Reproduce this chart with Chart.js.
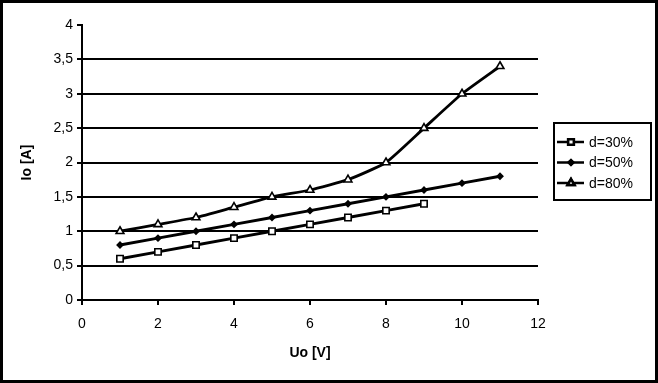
<!DOCTYPE html>
<html lang="en">
<head>
    <meta charset="UTF-8" />
    <title>Io vs Uo</title>
    <script src="https://cdn.jsdelivr.net/npm/chart.js"></script>
    <style>
        html, body { margin: 0; padding: 0; background: #fff; }
        #wrap { width: 658px; height: 383px; }
    </style>
</head>
<body>
    <div id="wrap"><canvas id="chart" width="658" height="383"></canvas></div>

    <script>
        // values
        const labels = ['d=30%', 'd=50%', 'd=80%'];
        const u30 = [1, 2, 3, 4, 5, 6, 7, 8, 9];
        const i30 = [0.6, 0.7, 0.8, 0.9, 1.0, 1.1, 1.2, 1.3, 1.4];
        const u50 = [1, 2, 3, 4, 5, 6, 7, 8, 9, 10, 11];
        const i50 = [0.8, 0.9, 1.0, 1.1, 1.2, 1.3, 1.4, 1.5, 1.6, 1.7, 1.8];
        const u80 = [1, 2, 3, 4, 5, 6, 7, 8, 9, 10, 11];
        const i80 = [1.0, 1.1, 1.2, 1.35, 1.5, 1.6, 1.75, 2.0, 2.5, 3.0, 3.4];

        const pts = (xs, ys) => xs.map((x, i) => ({ x, y: ys[i] }));
        const FONT = 'Liberation Sans, Arial, sans-serif';

        // white page + outer frame
        const frame = {
            id: 'frame',
            beforeDraw(chart) {
                const c = chart.ctx;
                c.save();
                c.fillStyle = '#fff';
                c.fillRect(0, 0, chart.width, chart.height);
                c.restore();
            },
            afterDraw(chart) {
                const c = chart.ctx;
                c.save();
                c.strokeStyle = '#000';
                c.lineWidth = 3;
                c.strokeRect(1.5, 1.5, chart.width - 3, chart.height - 3);
                c.restore();
            }
        };

        // excel-like boxed legend on the right
        const boxLegend = {
            id: 'boxLegend',
            afterDraw(chart) {
                const c = chart.ctx;
                const x0 = 554, y0 = 123, w = 97, h = 77;
                c.save();
                c.strokeStyle = '#000';
                c.lineWidth = 2;
                c.strokeRect(x0, y0, w, h);
                c.font = '14px ' + FONT;
                c.textBaseline = 'middle';
                c.fillStyle = '#000';
                chart.data.datasets.forEach((ds, i) => {
                    const y = 142 + i * 20.5;
                    c.beginPath();
                    c.lineWidth = 2.5;
                    c.moveTo(557, y);
                    c.lineTo(584, y);
                    c.stroke();
                    Chart.helpers.drawPoint(c, {
                        pointStyle: ds.pointStyle,
                        radius: ds.pointRadius - 0.5,
                        borderWidth: 1.5
                    }, 571, y);
                    c.fillStyle = ds.pointBackgroundColor;
                    c.fill();
                    c.stroke();
                    c.fillStyle = '#000';
                    c.fillText(ds.label, 589, y + 1);
                });
                c.restore();
            }
        };

        const line = (label, data, style, radius, fill, tension) => ({
            label, data,
            borderColor: '#000',
            borderWidth: 2.8,
            pointStyle: style,
            pointRadius: radius,
            pointBorderWidth: 1.6,
            pointBorderColor: '#000',
            pointBackgroundColor: fill,
            tension
        });

        new Chart(document.getElementById('chart'), {
            type: 'line',
            data: {
                datasets: [
                    line(labels[0], pts(u30, i30), 'rect', 4.5, '#fff', 0),
                    line(labels[1], pts(u50, i50), 'rectRot', 2.8, '#000', 0),
                    line(labels[2], pts(u80, i80), 'triangle', 4.5, '#fff', 0.15)
                ]
            },
            options: {
                responsive: false,
                animation: false,
                layout: { padding: { top: 25, right: 120, left: 0, bottom: 0 } },
                plugins: { legend: { display: false }, tooltip: { enabled: false } },
                scales: {
                    x: {
                        type: 'linear',
                        min: 0, max: 12,
                        afterFit: s => { s.height = 83; },
                        ticks: { stepSize: 2, color: '#000', padding: 11, font: { family: FONT, size: 14 } },
                        grid: { drawOnChartArea: false, tickLength: 5, tickColor: '#000', lineWidth: 2 },
                        border: { color: '#000', width: 2 },
                        title: { display: true, text: 'Uo [V]', color: '#000', padding: { top: 0, bottom: 21 }, font: { family: FONT, size: 14, weight: 'bold' } }
                    },
                    y: {
                        min: 0, max: 4,
                        afterFit: s => { s.width = 82; },
                        ticks: {
                            stepSize: 0.5, color: '#000', padding: 4,
                            font: { family: FONT, size: 14 },
                            callback: v => String(v).replace('.', ',')
                        },
                        grid: {
                            color: ctx => ctx.tick && ctx.tick.value === 4 ? 'rgba(0,0,0,0)' : '#000',
                            tickColor: '#000', tickLength: 5, lineWidth: 2
                        },
                        border: { color: '#000', width: 2 },
                        title: { display: true, text: 'Io [A]', color: '#000', padding: { top: 19, bottom: 0 }, font: { family: FONT, size: 14, weight: 'bold' } }
                    }
                }
            },
            plugins: [frame, boxLegend]
        });
    </script>
</body>
</html>
